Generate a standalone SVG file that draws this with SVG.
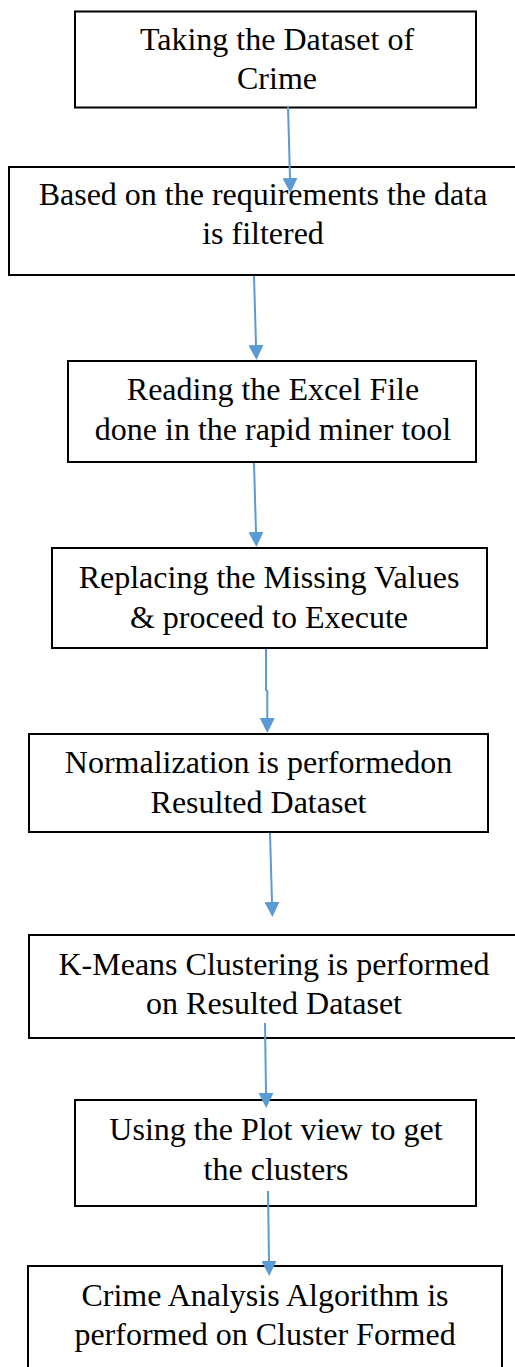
<svg xmlns="http://www.w3.org/2000/svg" width="515" height="1367" viewBox="0 0 515 1367">
  <style>
    .box { fill: #ffffff; stroke: #000000; stroke-width: 2; }
    .lbl { font-family: "Liberation Serif", "Times New Roman", serif; font-size: 32px; fill: #000000; text-anchor: middle; }
    .flow { fill: none; stroke: #5B9BD5; stroke-width: 2; }
  </style>
  <defs>
    <marker id="head" viewBox="0 0 15 15" markerWidth="15" markerHeight="15" refX="0" refY="7.5" orient="auto" markerUnits="userSpaceOnUse">
      <path d="M0,0 L15,7.5 L0,15 Z" fill="#5B9BD5"/>
    </marker>
  </defs>
  <rect width="515" height="1367" fill="#ffffff"/>

  <g id="step-dataset">
    <rect class="box" x="75" y="11.5" width="401" height="96"/>
    <text class="lbl" x="277" y="50">Taking the Dataset of</text>
    <text class="lbl" x="277" y="89">Crime</text>
  </g>

  <g id="step-filter">
    <rect class="box" x="9" y="167" width="520" height="108"/>
    <text class="lbl" x="263" y="205">Based on the requirements the data</text>
    <text class="lbl" x="263" y="244">is filtered</text>
  </g>

  <g id="step-read-excel">
    <rect class="box" x="68" y="361" width="408" height="101"/>
    <text class="lbl" x="273" y="400">Reading the Excel File</text>
    <text class="lbl" x="273" y="440">done in the rapid miner tool</text>
  </g>

  <g id="step-missing-values">
    <rect class="box" x="52" y="548" width="435" height="100"/>
    <text class="lbl" x="269" y="588">Replacing the Missing Values</text>
    <text class="lbl" x="269" y="628">&amp; proceed to Execute</text>
  </g>

  <g id="step-normalize">
    <rect class="box" x="29" y="734" width="459" height="98"/>
    <text class="lbl" x="258.5" y="773">Normalization is performedon</text>
    <text class="lbl" x="258.5" y="813">Resulted Dataset</text>
  </g>

  <g id="step-kmeans">
    <rect class="box" x="29" y="935" width="500" height="103"/>
    <text class="lbl" x="274" y="975">K-Means Clustering is performed</text>
    <text class="lbl" x="274" y="1014">on Resulted Dataset</text>
  </g>

  <g id="step-plot-view">
    <rect class="box" x="75" y="1100" width="401" height="106"/>
    <text class="lbl" x="276" y="1140">Using the Plot view to get</text>
    <text class="lbl" x="276" y="1180">the clusters</text>
  </g>

  <g id="step-analysis">
    <rect class="box" x="28" y="1266" width="474" height="120"/>
    <text class="lbl" x="265" y="1306">Crime Analysis Algorithm is</text>
    <text class="lbl" x="265" y="1345">performed on Cluster Formed</text>
  </g>

  <g id="connectors">
    <path class="flow" d="M288,107 L290,178" marker-end="url(#head)"/>
    <path class="flow" d="M254,276 L256,345" marker-end="url(#head)"/>
    <path class="flow" d="M254,463 L256,532" marker-end="url(#head)"/>
    <path class="flow" d="M266,649 L266,690 L267.3,691 L267.3,718" marker-end="url(#head)"/>
    <path class="flow" d="M270,833 L272,902" marker-end="url(#head)"/>
    <path class="flow" d="M265,1023 L266,1093" marker-end="url(#head)"/>
    <path class="flow" d="M268,1191 L269,1261" marker-end="url(#head)"/>
  </g>
</svg>
